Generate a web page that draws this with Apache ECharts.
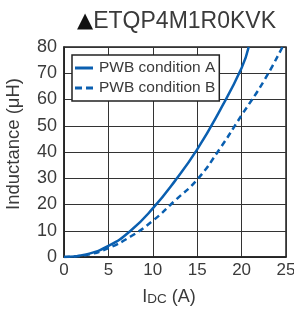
<!DOCTYPE html>
<html><head><meta charset="utf-8">
<script src="https://cdn.jsdelivr.net/npm/echarts@6/dist/echarts.min.js"></script>
<style>html,body{margin:0;padding:0;background:#fff}#c{width:294px;height:311px}</style>
</head><body><div id="c"></div>
<script>
const titleMark = "▲";
const titleText = "ETQP4M1R0KVK";
const seriesNames = ["PWB condition A", "PWB condition B"];
const xTicks = [0, 5, 10, 15, 20, 25];
const yTicks = [0, 10, 20, 30, 40, 50, 60, 70, 80];
const conditionA = [[0,0],[2.5,1],[5,4.2],[7.5,10],[10,18.5],[12.5,29],[15,41],[17.5,55.5],[20,72],[20.8,80]];
const conditionB = [[0,0],[2.5,0.8],[5,3.4],[7.5,7.8],[10,13.8],[12.5,21.5],[15,29.5],[17.5,41],[20,54],[22.5,67],[24.6,80]];

const blue = '#0a5fb0';
const txt = '#3a3a3a';
const F = 'Liberation Sans';
const chart = echarts.init(document.getElementById('c'), null, {renderer:'canvas'});
chart.setOption({
  animation:false,
  title:{text:'{m|'+titleMark+'}{t|'+titleText+'}', right:13, top:5,
    textStyle:{fontWeight:'normal', rich:{m:{fontFamily:'DejaVu Sans', fontSize:21, fontWeight:'normal', color:'#111'}, t:{fontFamily:F, fontSize:23, fontWeight:'normal', color:txt}}}},
  grid:{left:64, right:8, top:47, bottom:54, containLabel:false, outerBoundsMode:'none', show:true, borderColor:'#222', borderWidth:1.5, backgroundColor:'transparent'},
  legend:{
    left:72, top:55, orient:'vertical', itemGap:4, itemWidth:18, itemHeight:12,
    backgroundColor:'#fff', borderColor:'#222', borderWidth:1.5, padding:[5,4,5,3],
    textStyle:{fontFamily:F, fontSize:15.5, color:txt, padding:[0,0,0,1]},
    data:[{name:seriesNames[0], icon:'path://M0,0 L18,0 L18,3 L0,3 Z'},
          {name:seriesNames[1], icon:'path://M0,0 L7,0 L7,3 L0,3 Z M11,0 L18,0 L18,3 L11,3 Z'}],
    itemStyle:{color:blue}
  },
  xAxis:{type:'value', min:0, max:25, interval:5,
    name:'{i|I}{dc|DC} (A)', nameLocation:'middle', nameGap:31,
    nameTextStyle:{padding:[0,12,0,0], rich:{i:{fontFamily:F, fontSize:18, color:txt}, dc:{fontFamily:F, fontSize:13.5, color:txt, verticalAlign:'bottom'}}, fontFamily:F, fontSize:18, color:txt},
    axisLine:{show:true, lineStyle:{color:'#222', width:1.5}}, axisTick:{show:false},
    axisLabel:{fontFamily:F, fontSize:17, color:txt, margin:5, formatter:v=>xTicks.includes(v)?String(v):''},
    splitLine:{show:true, lineStyle:{color:'#333', width:1}}},
  yAxis:{type:'value', min:0, max:80, interval:10,
    name:'Inductance (μH)', nameLocation:'middle', nameGap:41, nameRotate:90,
    nameTextStyle:{fontFamily:F, fontSize:18.5, color:txt, padding:[0,0,0,16]},
    axisLine:{show:true, lineStyle:{color:'#222', width:1.5}}, axisTick:{show:false},
    axisLabel:{fontFamily:F, fontSize:18, color:txt, margin:7, formatter:v=>yTicks.includes(v)?String(v):''},
    splitLine:{show:true, lineStyle:{color:'#333', width:1}}},
  series:[
    {name:seriesNames[0], type:'line', data:conditionA, smooth:true, symbol:'none', lineStyle:{color:blue, width:2.5}, itemStyle:{color:blue}, z:3},
    {name:seriesNames[1], type:'line', data:conditionB, smooth:true, symbol:'none', lineStyle:{color:blue, width:2.5, type:[6,4]}, itemStyle:{color:blue}, z:3}
  ]
});
</script></body></html>
